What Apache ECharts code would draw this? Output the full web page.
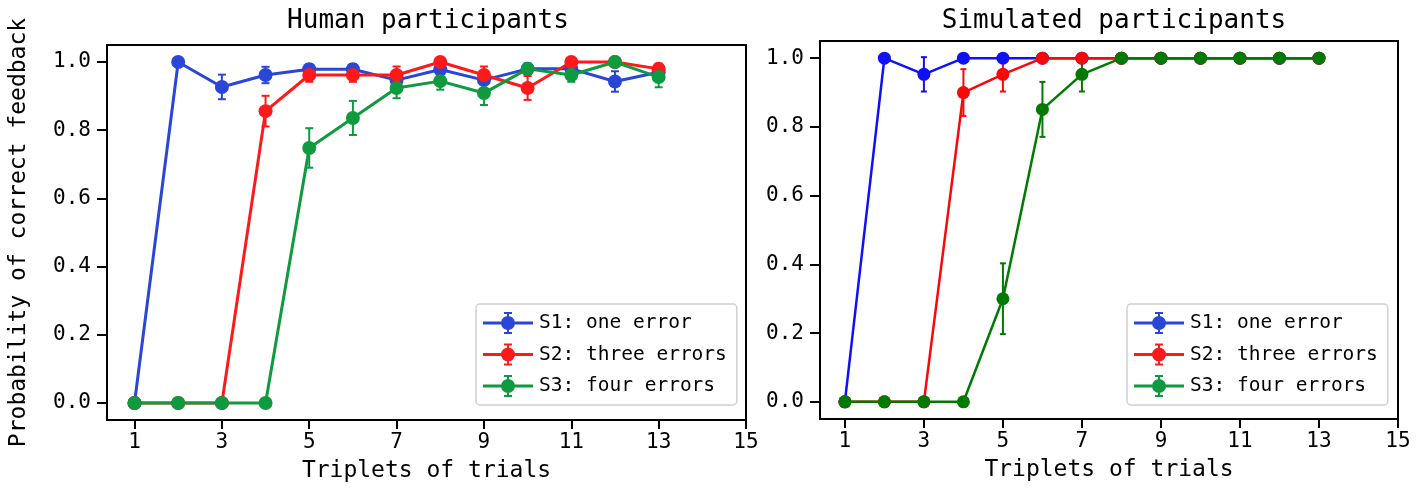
<!DOCTYPE html>
<html>
<head>
<meta charset="utf-8">
<script src="https://cdn.jsdelivr.net/npm/echarts@6/dist/echarts.min.js"></script>
<style>
html,body{margin:0;padding:0;background:#fff;}
#chart{width:1424px;height:490px;}
</style>
</head>
<body>
<div id="chart"></div>
<script>
// ---- data ----
const triplets = [1,2,3,4,5,6,7,8,9,10,11,12,13];
const xTicks = [1,3,5,7,9,11,13,15];
const yTicks = [0,0.2,0.4,0.6,0.8,1.0];
const seriesNames = ['S1: one error','S2: three errors','S3: four errors'];
const titles = ['Human participants','Simulated participants'];

// Human participants
const humanS1 = [0,1.0,0.927,0.962,0.979,0.979,0.947,0.978,0.947,0.98,0.98,0.943,0.97];
const humanS1Err = [0,0,0.036,0.024,0.015,0.015,0.02,0.02,0.025,0.015,0.02,0.03,0.02];
const humanS2 = [0,0,0,0.856,0.962,0.962,0.962,1.0,0.962,0.924,1.0,1.0,0.98];
const humanS2Err = [0,0,0,0.045,0.02,0.02,0.025,0.01,0.025,0.035,0.01,0.01,0.015];
const humanS3 = [0,0,0,0,0.748,0.836,0.924,0.944,0.909,0.98,0.962,1.0,0.956];
const humanS3Err = [0,0,0,0,0.058,0.05,0.03,0.025,0.035,0.015,0.02,0.01,0.03];

// Simulated participants
const simS1 = [0,1.0,0.953,1,1,1,1,1,1,1,1,1,1];
const simS1Err = [0,0,0.05,0,0,0,0,0,0,0,0,0,0];
const simS2 = [0,0,0,0.9,0.953,1,1,1,1,1,1,1,1];
const simS2Err = [0,0,0,0.068,0.05,0,0,0,0,0,0,0,0];
const simS3 = [0,0,0,0,0.3,0.851,0.953,1,1,1,1,1,1];
const simS3Err = [0,0,0,0,0.103,0.08,0.05,0,0,0,0,0,0];

// ---- styles ----
const FONT = '"DejaVu Sans Mono", "Liberation Mono", monospace';
const humanColors = ['#2a46d6','#fe1a1a','#109a40'];
const simColors = ['#1010f8','#f80808','#007a00'];
const legendIcon = 'path://M0,9.5H50V12.5H0Z M18,11A7,7 0 1,1 32,11A7,7 0 1,1 18,11Z M24,0H26V22H24Z M21,0H29V2H21Z M21,20H29V22H21Z';

const chart = echarts.init(document.getElementById('chart'), null, {renderer:'canvas'});

const grids = [
  {left:107, top:45, width:639, height:375},
  {left:820, top:41, width:578, height:378}
];

function xAxisDef(i){
  return {
    gridIndex:i, type:'value', min:0.37, max:15,
    name:'Triplets of trials', nameLocation:'middle', nameGap:40,
    nameTextStyle:{fontFamily:FONT, fontSize:23, color:'#000'},
    axisLine:{show:true, onZero:false, lineStyle:{color:'#000', width:2}},
    axisTick:{show:true, inside:false, length:9, lineStyle:{color:'#000', width:2}, customValues:xTicks},
    axisLabel:{show:true, margin:12, fontFamily:FONT, fontSize:21, color:'#000', customValues:xTicks},
    splitLine:{show:false}
  };
}
function yAxisDef(i){
  const d = {
    gridIndex:i, type:'value', min:-0.05, max:1.05,
    axisLine:{show:true, onZero:false, lineStyle:{color:'#000', width:2}},
    axisTick:{show:true, inside:false, length:10, lineStyle:{color:'#000', width:2}, customValues:yTicks},
    axisLabel:{show:true, margin:16, fontFamily:FONT, fontSize:21, color:'#000', customValues:yTicks,
      formatter:v=>Number(v).toFixed(1)},
    splitLine:{show:false}
  };
  if(i===0){
    d.name='Probability of correct feedback';
    d.nameLocation='middle'; d.nameGap=76; d.nameRotate=90;
    d.nameTextStyle={fontFamily:FONT, fontSize:23, color:'#000'};
  }
  return d;
}

function lineSeries(name, vals, color, gi, lw, sym){
  return {
    name:name, type:'line', xAxisIndex:gi, yAxisIndex:gi,
    data:triplets.map((t,k)=>[t, vals[k]]),
    symbol:'circle', symbolSize:sym, showSymbol:true,
    lineStyle:{color:color, width:lw},
    itemStyle:{color:color, borderWidth:0},
    emphasis:{disabled:true}, clip:false
  };
}
function errSeries(vals, errs, color, gi, capHalf){
  return {
    type:'custom', xAxisIndex:gi, yAxisIndex:gi,
    data:triplets.map((t,k)=>[t, vals[k], errs[k]]),
    encode:{x:0, y:1}, silent:true, clip:false,
    renderItem:function(params, api){
      const x = api.value(0), y = api.value(1), e = api.value(2);
      if(!e) return null;
      const a = api.coord([x, y+e]), b = api.coord([x, y-e]);
      const st = {stroke:color, lineWidth:2};
      return {type:'group', children:[
        {type:'line', shape:{x1:a[0],y1:a[1],x2:b[0],y2:b[1]}, style:st},
        {type:'line', shape:{x1:a[0]-capHalf,y1:a[1],x2:a[0]+capHalf,y2:a[1]}, style:st},
        {type:'line', shape:{x1:b[0]-capHalf,y1:b[1],x2:b[0]+capHalf,y2:b[1]}, style:st}
      ]};
    }
  };
}

const human = [[humanS1,humanS1Err],[humanS2,humanS2Err],[humanS3,humanS3Err]];
const sim = [[simS1,simS1Err],[simS2,simS2Err],[simS3,simS3Err]];
const series = [];
human.forEach((d,k)=>{
  series.push(errSeries(d[0], d[1], humanColors[k], 0, 4));
  series.push(lineSeries(seriesNames[k], d[0], humanColors[k], 0, 3, 14));
});
sim.forEach((d,k)=>{
  series.push(errSeries(d[0], d[1], simColors[k], 1, 3));
  series.push(lineSeries(seriesNames[k], d[0], simColors[k], 1, 2.5, 13));
});

function legendDef(left, top){
  return {
    left:left, top:top, orient:'vertical',
    itemWidth:50, itemHeight:22, itemGap:9.5,
    padding:[8,10,8,7],
    backgroundColor:'#fff', borderColor:'#d0d0d0', borderWidth:1.5, borderRadius:4,
    selectedMode:false,
    textStyle:{fontFamily:FONT, fontSize:19.5, color:'#000', padding:[0,0,0,1]},
    data:seriesNames.map((n,k)=>({name:n, icon:legendIcon, itemStyle:{color:humanColors[k], borderWidth:0}}))
  };
}

chart.setOption({
  animation:false,
  backgroundColor:'#fff',
  title: titles.map((t,i)=>({
    text:t, left: i===0 ? 423 : 1109, top:3, textAlign:'center',
    textStyle:{fontFamily:FONT, fontSize:26, fontWeight:'normal', color:'#000'}
  })),
  grid: grids.map(g=>Object.assign({show:true, borderColor:'#000', borderWidth:2, backgroundColor:'#fff', containLabel:false}, g)),
  xAxis:[xAxisDef(0), xAxisDef(1)],
  yAxis:[yAxisDef(0), yAxisDef(1)],
  legend:[legendDef(476, 304), legendDef(1127, 304)],
  series:series
});
</script>
</body>
</html>
